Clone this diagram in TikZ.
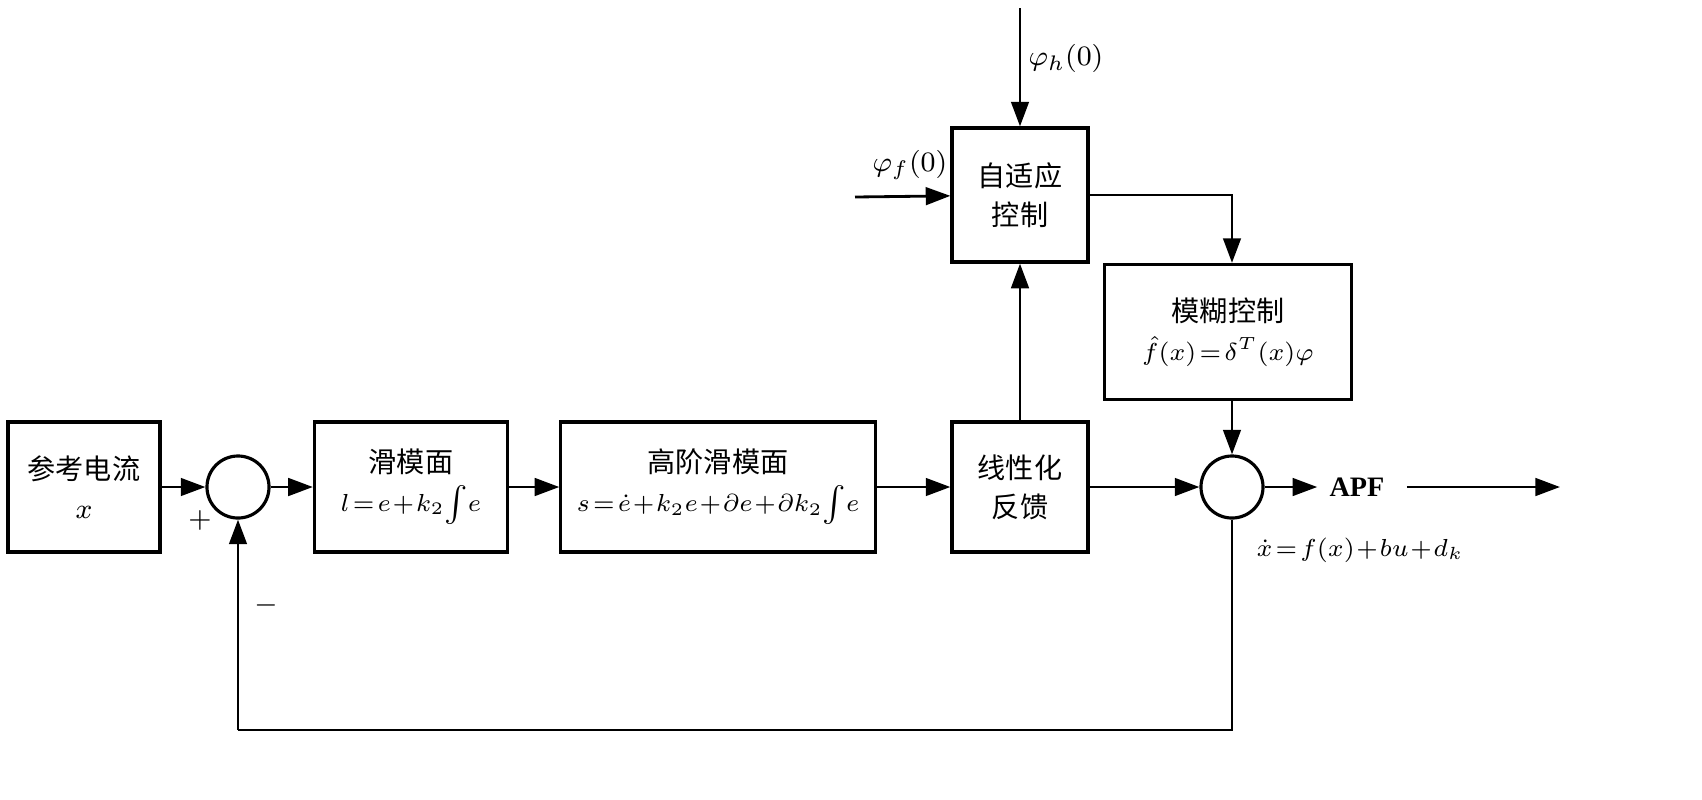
\documentclass[tikz,border=0pt]{standalone}
\usepackage{fontspec}
\setmainfont{Liberation Serif}
\newfontfamily\cjk{Noto Sans CJK SC}
\usetikzlibrary{arrows.meta}
\begin{document}
\begin{tikzpicture}[x=0.01cm,y=-0.01cm,
  blk/.style={draw,line width=0.9pt,minimum height=1.3cm,align=center,inner sep=0pt,font=\fontsize{8}{11}\selectfont},
  sum/.style={draw,line width=0.9pt,circle,minimum size=0.62cm,inner sep=0pt},
  ar/.style={-{Triangle[length=7pt,width=5pt]},line width=0.8pt},
  ln/.style={line width=0.8pt},
  lbl/.style={font=\fontsize{8}{10}\selectfont}]
\useasboundingbox (0,0) rectangle (1702,799);
\node[blk,minimum width=1.52cm] (ref) at (84,487) {{\cjk 参考电流}\\ $x$};
\node[sum] (s1) at (238,487) {};
\node[blk,minimum width=1.93cm] (hm) at (411,487) {{\cjk 滑模面}\\ {\fontsize{7}{9}\selectfont$l\!=\!e\!+\!k_2\!\int\! e$}};
\node[blk,minimum width=3.14cm] (gj) at (718,487) {{\cjk 高阶滑模面}\\ {\fontsize{7}{9}\selectfont$s\!=\!\dot e\!+\!k_2e\!+\!\partial e\!+\!\partial k_2\!\int\! e$}};
\node[blk,minimum width=1.36cm] (lf) at (1020,487) {{\cjk 线性化}\\{\cjk 反馈}};
\node[sum] (s2) at (1232,487) {};
\node[blk,minimum width=1.36cm,minimum height=1.34cm] (ad) at (1020,195) {{\cjk 自适应}\\{\cjk 控制}};
\node[blk,minimum width=2.47cm,minimum height=1.35cm] (fz) at (1228,332) {{\cjk 模糊控制}\\ {\fontsize{7}{9}\selectfont$\hat f(x)\!=\!\delta^{T}(x)\varphi$}};
\node[lbl,font=\fontsize{8}{10}\selectfont\bfseries] (apf) at (1357,487) {APF};
\coordinate (top) at (1020,8);
\coordinate (pf) at (855,197);
\coordinate (out) at (1560,487);
\coordinate (fb) at (1232,730);
\coordinate (fb2) at (238,730);
\draw[ar] (ref) -- (s1);
\draw[ar] (s1) -- (hm);
\draw[ar] (hm) -- (gj);
\draw[ar] (gj) -- (lf);
\draw[ar] (lf) -- (s2);
\draw[ar] (s2) -- (apf);
\draw[ar] (apf.east)+(10,0) -- (out);
\draw[ar] (lf) -- (ad);
\draw[ar] (top) -- (ad);
\draw[ar] (pf) -- (ad);
\draw[ar] (ad.east) -| (fz.north -| s2);
\draw[ar] (fz.south -| s2) -- (s2);
\draw[ln] (s2) -- (fb) -- (fb2);
\draw[ar] (fb2) -- (s1);
\node[lbl] at (1066,58) {$\varphi_h(0)$};
\node[lbl] at (910,165) {$\varphi_f(0)$};
\node[lbl] at (200,520) {$+$};
\node[lbl] at (266,605) {$-$};
\node[lbl] at (1360,550) {\fontsize{7}{9}\selectfont$\dot x\!=\!f(x)\!+\!bu\!+\!d_k$};
\end{tikzpicture}
\end{document}
